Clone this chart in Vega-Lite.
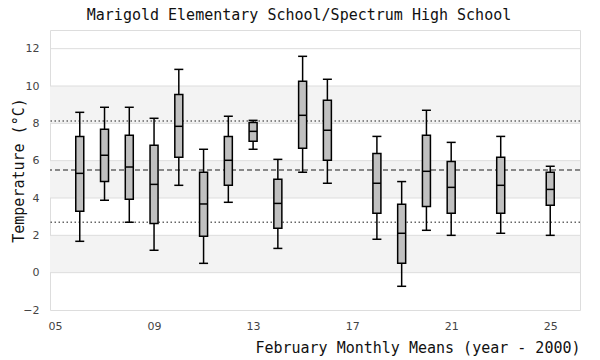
{
  "$schema": "https://vega.github.io/schema/vega-lite/v6.json",
  "width": 530,
  "height": 280,
  "autosize": {"type": "none"},
  "padding": {"left": 50, "top": 30, "right": 20, "bottom": 50},
  "background": "white",
  "title": {
    "text": "Marigold Elementary School/Spectrum High School",
    "font": "DejaVu Sans Mono",
    "fontSize": 15,
    "fontWeight": "normal",
    "color": "#111",
    "anchor": "middle",
    "dx": -16,
    "offset": 7
  },
  "config": {
    "view": {"stroke": "#dddddd", "strokeWidth": 1},
    "axis": {
      "labelFont": "DejaVu Sans",
      "labelFontSize": 11,
      "labelColor": "#444",
      "labelOverlap": false,
      "titleFont": "DejaVu Sans Mono",
      "titleFontSize": 15,
      "titleFontWeight": "normal",
      "titleColor": "#111",
      "domain": false,
      "ticks": false,
      "grid": false
    },
    "axisY": {"labelOverlap": false, "tickCount": 8},
    "axisQuantitative": {"labelOverlap": false}
  },
  "datasets": {
    "boxes": [
      {"yr": 6, "low": 1.68, "q1": 3.29, "med": 5.32, "q3": 7.30, "high": 8.59},
      {"yr": 7, "low": 3.88, "q1": 4.89, "med": 6.29, "q3": 7.68, "high": 8.86},
      {"yr": 8, "low": 2.70, "q1": 3.93, "med": 5.66, "q3": 7.36, "high": 8.86},
      {"yr": 9, "low": 1.20, "q1": 2.64, "med": 4.73, "q3": 6.82, "high": 8.27},
      {"yr": 10, "low": 4.68, "q1": 6.18, "med": 7.84, "q3": 9.55, "high": 10.89},
      {"yr": 11, "low": 0.50, "q1": 1.95, "med": 3.68, "q3": 5.38, "high": 6.61},
      {"yr": 12, "low": 3.77, "q1": 4.68, "med": 6.02, "q3": 7.30, "high": 8.38},
      {"yr": 13, "low": 6.61, "q1": 7.04, "med": 7.57, "q3": 8.05, "high": 8.16},
      {"yr": 14, "low": 1.30, "q1": 2.38, "med": 3.71, "q3": 5.00, "high": 6.07},
      {"yr": 15, "low": 5.38, "q1": 6.66, "med": 8.43, "q3": 10.25, "high": 11.59},
      {"yr": 16, "low": 4.79, "q1": 6.02, "med": 7.63, "q3": 9.23, "high": 10.36},
      {"yr": 18, "low": 1.79, "q1": 3.18, "med": 4.79, "q3": 6.39, "high": 7.30},
      {"yr": 19, "low": -0.73, "q1": 0.50, "med": 2.11, "q3": 3.66, "high": 4.88},
      {"yr": 20, "low": 2.27, "q1": 3.55, "med": 5.43, "q3": 7.36, "high": 8.70},
      {"yr": 21, "low": 2.00, "q1": 3.18, "med": 4.57, "q3": 5.96, "high": 6.98},
      {"yr": 23, "low": 2.11, "q1": 3.18, "med": 4.68, "q3": 6.18, "high": 7.30},
      {"yr": 25, "low": 2.00, "q1": 3.61, "med": 4.46, "q3": 5.38, "high": 5.70}
    ],
    "bands": [
      {"lo": 0, "hi": 2},
      {"lo": 4, "hi": 6},
      {"lo": 8, "hi": 10}
    ],
    "grid": [
      {"g": 0}, {"g": 2}, {"g": 4}, {"g": 6}, {"g": 8}, {"g": 10}, {"g": 12}
    ],
    "dotted": [
      {"v": 8.13},
      {"v": 2.7}
    ],
    "dashed": [
      {"v": 5.5}
    ]
  },
  "encoding": {
    "y": {
      "type": "quantitative",
      "scale": {"domain": [-2, 13], "nice": false, "zero": false},
      "axis": {
        "values": [-2, 0, 2, 4, 6, 8, 10, 12],
        "labelOverlap": false,
        "labelPadding": 11,
        "title": "Temperature (°C)",
        "titlePadding": -4
      }
    }
  },
  "layer": [
    {
      "data": {"name": "bands"},
      "mark": {"type": "rect", "color": "#f3f3f3"},
      "encoding": {
        "y": {"field": "lo", "type": "quantitative"},
        "y2": {"field": "hi"}
      }
    },
    {
      "data": {"name": "grid"},
      "mark": {"type": "rule", "color": "#dddddd", "strokeWidth": 1},
      "encoding": {"y": {"field": "g", "type": "quantitative"}}
    },
    {
      "data": {"name": "dotted"},
      "mark": {"type": "rule", "color": "#666", "strokeWidth": 1.5, "strokeDash": [1.5, 2.5]},
      "encoding": {"y": {"field": "v", "type": "quantitative"}}
    },
    {
      "data": {"name": "dashed"},
      "mark": {"type": "rule", "color": "#666", "strokeWidth": 1.5, "strokeDash": [5, 3]},
      "encoding": {"y": {"field": "v", "type": "quantitative"}}
    },
    {
      "data": {"name": "boxes"},
      "layer": [
        {
          "mark": {"type": "rule", "color": "black", "strokeWidth": 1.5},
          "encoding": {
            "x": {
              "field": "yr",
              "type": "quantitative",
              "scale": {"domain": [5, 26], "nice": false, "zero": false},
              "axis": {
                "values": [5, 9, 13, 17, 21, 25],
                "format": "02d",
                "labelOverlap": false,
                "labelPadding": 10,
                "title": "February Monthly Means (year - 2000)",
                "titleAnchor": "end",
                "titlePadding": 9
              }
            },
            "y": {"field": "low", "type": "quantitative"},
            "y2": {"field": "high"}
          }
        },
        {
          "mark": {"type": "bar", "width": 8, "fill": "#c0c0c0", "stroke": "black", "strokeWidth": 1.5},
          "encoding": {
            "x": {"field": "yr", "type": "quantitative"},
            "y": {"field": "q1", "type": "quantitative"},
            "y2": {"field": "q3"}
          }
        },
        {
          "mark": {"type": "tick", "orient": "horizontal", "size": 8, "thickness": 1.5, "color": "black", "opacity": 1},
          "encoding": {
            "x": {"field": "yr", "type": "quantitative"},
            "y": {"field": "med", "type": "quantitative"}
          }
        },
        {
          "mark": {"type": "tick", "orient": "horizontal", "size": 9, "thickness": 1.5, "color": "black", "opacity": 1},
          "encoding": {
            "x": {"field": "yr", "type": "quantitative"},
            "y": {"field": "low", "type": "quantitative"}
          }
        },
        {
          "mark": {"type": "tick", "orient": "horizontal", "size": 9, "thickness": 1.5, "color": "black", "opacity": 1},
          "encoding": {
            "x": {"field": "yr", "type": "quantitative"},
            "y": {"field": "high", "type": "quantitative"}
          }
        }
      ]
    }
  ]
}
